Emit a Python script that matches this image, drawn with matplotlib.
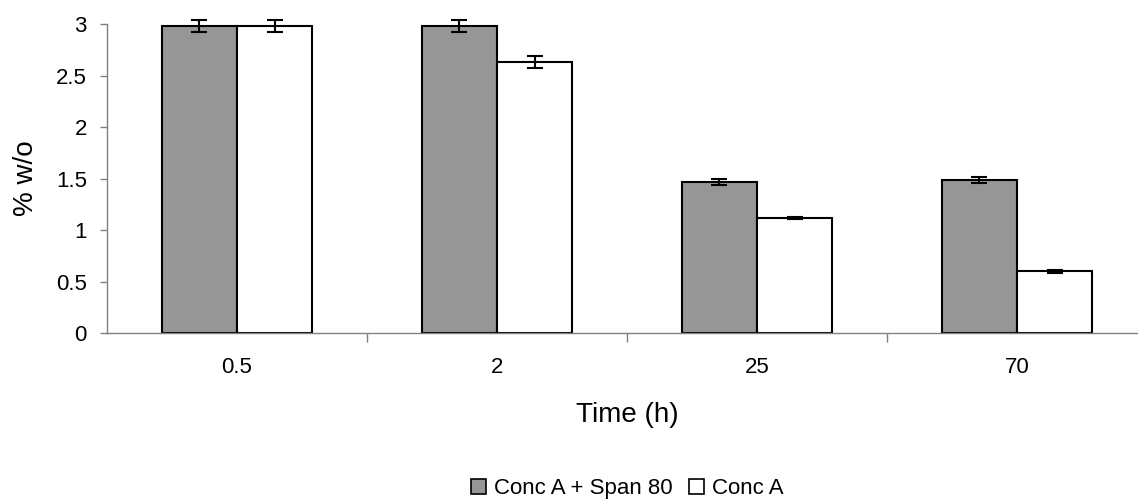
import matplotlib
matplotlib.use("Agg")
import matplotlib.pyplot as plt
from matplotlib.patches import Patch
import numpy as np

plt.rcParams['font.family'] = ['Liberation Sans', 'DejaVu Sans']

times = ["0.5", "2", "25", "70"]
span80 = [2.98, 2.98, 1.47, 1.49]
span80_err = [0.055, 0.055, 0.03, 0.03]
conc_a = [2.98, 2.63, 1.12, 0.60]
conc_a_err = [0.055, 0.06, 0.012, 0.012]

W, H = 1138, 499
fig = plt.figure(figsize=(W / 100, H / 100), dpi=100)
ax_left, ax_bottom, ax_top, ax_w = 107, 333.3, 24, 1040
ax = fig.add_axes([ax_left / W, 1 - ax_bottom / H, ax_w / W, (ax_bottom - ax_top) / H])

x = np.arange(len(times))
w = 0.29
err_kw = dict(ecolor='black', elinewidth=1.5, capsize=6, capthick=1.5)
b1 = ax.bar(x - w / 2, span80, w, color='#969696', edgecolor='black', linewidth=1.5,
            yerr=span80_err, error_kw=err_kw, label='Conc A + Span 80', zorder=2)
b2 = ax.bar(x + w / 2, conc_a, w, color='white', edgecolor='black', linewidth=1.5,
            yerr=conc_a_err, error_kw=err_kw, label='Conc A', zorder=2)
for c in (b1, b2):
    for line in c.errorbar.lines[1] + c.errorbar.lines[2]:
        line.set_clip_on(False)

ax.set_xlim(-0.5, len(times) - 0.5)
ax.set_ylim(0, 3)
ax.set_yticks(np.arange(0, 3.01, 0.5))
ax.set_yticklabels(["0", "0.5", "1", "1.5", "2", "2.5", "3"])

# category separators as major ticks, category names as minor tick labels
ax.set_xticks(np.arange(0.5, len(times) - 0.5, 1))
ax.set_xticklabels([])
ax.set_xticks(x, minor=True)
ax.set_xticklabels(times, minor=True)
ax.tick_params(axis='x', which='major', length=6.5, width=1, color='#808080', direction='out')
ax.tick_params(axis='x', which='minor', length=0, pad=17, labelsize=16)
ax.tick_params(axis='y', length=5, width=1, color='#808080', direction='out', pad=9.5, labelsize=16)

for s in ('top', 'right'):
    ax.spines[s].set_visible(False)
for s in ('left', 'bottom'):
    ax.spines[s].set_color('#808080')
    ax.spines[s].set_linewidth(1)

ax.set_xlabel("Time (h)", fontsize=20)
ax.xaxis.set_label_coords(0.5, (ax_bottom - 402) / (ax_bottom - ax_top))
ax.set_ylabel("% w/o", fontsize=20)
ax.yaxis.set_label_coords((39 - ax_left) / ax_w, 0.5)

handles = [Patch(facecolor='#969696', edgecolor='black', linewidth=1.2, label='Conc A + Span 80'),
           Patch(facecolor='white', edgecolor='black', linewidth=1.2, label='Conc A')]
fig.legend(handles=handles, loc='center', bbox_to_anchor=((ax_left + ax_w / 2) / W, 1 - 488.5 / H),
           ncol=2, frameon=False, fontsize=16, handlelength=0.68, handleheight=0.68,
           handletextpad=0.36, columnspacing=0.72, borderpad=0.1)

fig.savefig("out.png", dpi=100)
